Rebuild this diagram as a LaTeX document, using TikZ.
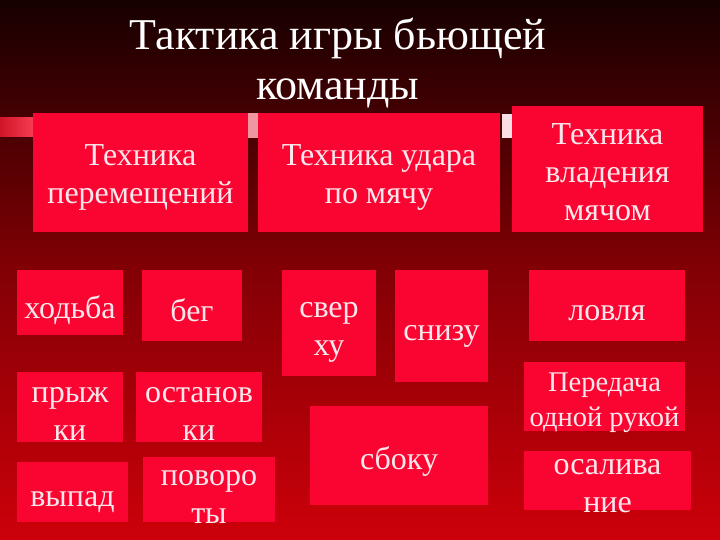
\documentclass[tikz,border=0pt]{standalone}
\usepackage{fontspec}
\setmainfont{Liberation Serif}
\definecolor{boxred}{RGB}{250,5,50}
\definecolor{txt}{RGB}{250,232,236}
\definecolor{bgtop}{RGB}{22,0,0}
\definecolor{bgmid}{RGB}{130,0,5}
\definecolor{bgbot}{RGB}{205,0,10}
\definecolor{barA}{RGB}{210,20,40}
\definecolor{barB}{RGB}{245,60,80}
\definecolor{barpink}{RGB}{240,150,160}
\definecolor{barwhite}{RGB}{250,222,228}
\tikzset{
  card/.style={fill=boxred, draw=none, inner sep=0pt},
  cardtext/.style={inner sep=0pt, text=txt, align=center,
    font=\fontsize{32}{38}\selectfont},
  smalltext/.style={cardtext, font=\fontsize{28.5}{35}\selectfont},
  ttl/.style={text=white, align=center, font=\fontsize{44}{50}\selectfont}
}
% box from (x1,y1) to (x2,y2) in px, y downwards; #1 text style, #2 text shift down
\newcommand{\mybox}[8][cardtext]{%
  \node[card, minimum width={(#5-#3)*1pt}, minimum height={(#6-#4)*1pt}]
    (#7) at ({(#3+#5)/2*1pt},{-(#4+#6)/2*1pt}) {};
  \node[#1] (#7-t) at ([yshift=-#2pt]#7.center) {#8};}
\begin{document}
\begin{tikzpicture}[x=1pt,y=-1pt]
\useasboundingbox (0,0) rectangle (720,540);
\shade[top color=bgtop, bottom color=bgbot, middle color=bgmid] (0,0) rectangle (720,540);
% decorative bars
\shade[left color=barA, right color=barB] (0,118) rectangle (33,137);
\fill[barpink] (248,113) rectangle (258,138);
\fill[barwhite] (502,114) rectangle (512,138);
% title
\node[ttl] (title) at (338,63) {Тактика игры бьющей\\команды};
% top row
\mybox{5}{33}{113}{248}{232}{tp}{Техника\\перемещений}
\mybox{5}{258}{113}{500}{232}{tu}{Техника удара\\по мячу}
\mybox{3}{512}{106}{703}{232}{tv}{Техника\\владения\\мячом}
% left group
\mybox{8}{17}{270}{123}{335}{hod}{ходьба}
\mybox{5}{142}{270}{242}{341}{beg}{бег}
\mybox{7}{17}{372}{123}{442}{pry}{прыж\\ки}
\mybox{7}{136}{372}{262}{442}{ost}{останов\\ки}
\mybox{10}{17}{462}{128}{522}{vyp}{выпад}
\mybox{7}{143}{457}{275}{522}{pov}{поворо\\ты}
% middle group
\mybox{9}{282}{270}{376}{376}{sve}{свер\\ху}
\mybox{10}{395}{270}{488}{382}{sni}{снизу}
\mybox{6}{310}{406}{488}{505}{sbo}{сбоку}
% right group
\mybox{8}{529}{270}{685}{341}{lov}{ловля}
\mybox[smalltext]{6}{524}{362}{685}{431}{per}{Передача\\одной рукой}
\mybox{6}{524}{451}{691}{510}{osa}{осалива\\ние}
\end{tikzpicture}
\end{document}
